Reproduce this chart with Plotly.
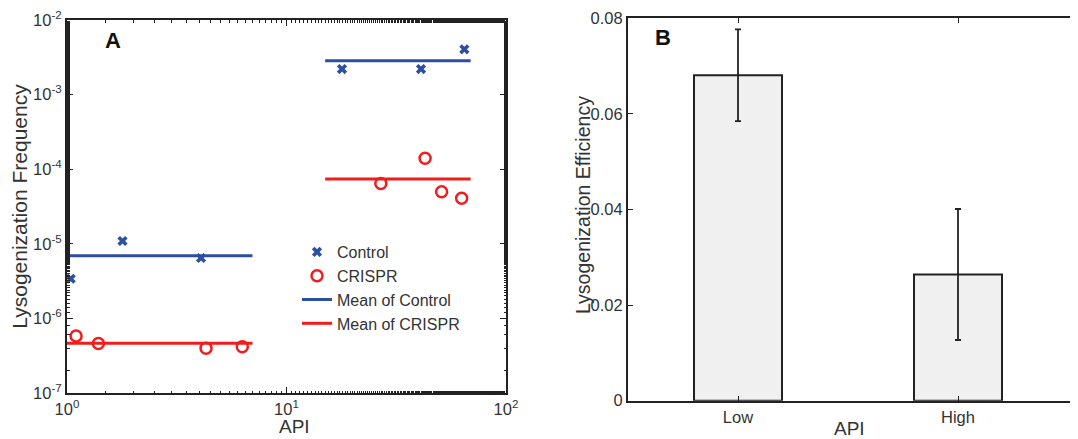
import plotly.graph_objects as go

# ---- Panel A data ----
control_api = [1.04, 1.79, 4.08, 17.9, 41.0, 64.6]
control_freq = [3.4e-6, 1.09e-5, 6.45e-6, 2.2e-3, 2.2e-3, 4.05e-3]
crispr_api = [1.10, 1.39, 4.30, 6.29, 26.9, 42.8, 50.9, 62.8]
crispr_freq = [5.8e-7, 4.6e-7, 3.97e-7, 4.18e-7, 6.45e-5, 1.4e-4, 5.0e-5, 4.07e-5]
mean_api = [1.0, 7.0, None, 15.0, 69.0]
mean_control = [6.9e-6, 6.9e-6, None, 2.85e-3, 2.85e-3]
mean_crispr = [4.63e-7, 4.63e-7, None, 7.4e-5, 7.4e-5]

# ---- Panel B data ----
categories = ["Low", "High"]
efficiency = [0.0681, 0.0264]
efficiency_err = [0.0096, 0.0137]

xtick_vals = [1, 10, 100]
xtick_text = ["10<sup>0</sup>", "10<sup>1</sup>", "10<sup>2</sup>"]
ytick_vals = [1e-7, 1e-6, 1e-5, 1e-4, 1e-3, 1e-2]
ytick_text = ["10<sup>-7</sup>", "10<sup>-6</sup>", "10<sup>-5</sup>",
              "10<sup>-4</sup>", "10<sup>-3</sup>", "10<sup>-2</sup>"]
btick_vals = [0, 0.02, 0.04, 0.06, 0.08]
btick_text = ["0", "0.02", "0.04", "0.06", "0.08"]

BLUE = "#2c4fa3"
RED = "#f21c1c"
AX = "#222222"
TXT = "#333333"
FONT = "Liberation Sans, Arial, sans-serif"

W, H = 1078, 439
OFF = 8  # page offset of the figure (body margin)


def px_x(p):
    return (p - OFF) / W


def px_y(p):
    return 1 - (p - OFF) / H


fig = go.Figure()

fig.add_trace(go.Scatter(x=control_api, y=control_freq, mode="markers", name="Control",
                         marker=dict(symbol="x", size=9, color=BLUE, line=dict(width=0)),
                         xaxis="x", yaxis="y"))
fig.add_trace(go.Scatter(x=crispr_api, y=crispr_freq, mode="markers", name="CRISPR",
                         marker=dict(symbol="circle-open", size=11, color=RED, line=dict(width=2.5)),
                         xaxis="x", yaxis="y"))
fig.add_trace(go.Scatter(x=mean_api, y=mean_control, mode="lines", name="Mean of Control",
                         line=dict(color=BLUE, width=3), connectgaps=False,
                         xaxis="x", yaxis="y"))
fig.add_trace(go.Scatter(x=mean_api, y=mean_crispr, mode="lines", name="Mean of CRISPR",
                         line=dict(color=RED, width=3), connectgaps=False,
                         xaxis="x", yaxis="y"))

fig.add_trace(go.Bar(x=[1, 2], y=efficiency, width=0.4, showlegend=False,
                     marker=dict(color="#f0f0f0", line=dict(color=AX, width=2)),
                     error_y=dict(type="data", array=efficiency_err, color=AX,
                                  thickness=1.8, width=3),
                     xaxis="x2", yaxis="y2"))

axis_common = dict(showline=True, linecolor=AX, linewidth=2, ticks="inside",
                   tickcolor=AX, showgrid=False, zeroline=False, automargin=False,
                   tickfont=dict(size=16.5, color=TXT, family=FONT))

# right panel: axis spans page x 628 .. beyond the window edge
b_left = 628
b_range_end = 0.5 + (W + OFF - b_left) / 220.0

fig.update_layout(
    width=W, height=H,
    margin=dict(l=0, r=0, t=0, b=0),
    paper_bgcolor="white", plot_bgcolor="white",
    font=dict(family=FONT, color=TXT),
    xaxis=dict(type="log", range=[0, 2], domain=[px_x(67), px_x(506)], anchor="y",
               tickvals=xtick_vals, ticktext=xtick_text, mirror="ticks", ticklen=6,
               minor=dict(ticks="inside", ticklen=2.5, tickwidth=1, tickcolor=AX, showgrid=False),
               **axis_common),
    yaxis=dict(type="log", range=[-7, -2], domain=[px_y(393), px_y(20)], anchor="x",
               tickvals=ytick_vals, ticktext=ytick_text, mirror="ticks", ticklen=6,
               minor=dict(ticks="inside", ticklen=2.5, tickwidth=1, tickcolor=AX, showgrid=False),
               title=dict(text="Lysogenization Frequency", standoff=2,
                          font=dict(size=21, color=TXT, family=FONT)),
               **axis_common),
    xaxis2=dict(range=[0.5, b_range_end], domain=[px_x(b_left), 1.0], anchor="y2",
                tickvals=[1, 2], ticktext=categories, mirror="ticks", ticklen=5,
                **axis_common),
    yaxis2=dict(range=[0, 0.08], domain=[px_y(400.7), px_y(18.3)], anchor="x2",
                tickvals=btick_vals, ticktext=btick_text, ticklen=5,
                **axis_common),
    legend=dict(x=px_x(297), y=px_y(235), xanchor="left", yanchor="top",
                bgcolor="rgba(0,0,0,0)", font=dict(size=16, color=TXT, family=FONT),
                tracegroupgap=0, itemwidth=30),
    annotations=[
        dict(text="<b>A</b>", xref="paper", yref="paper", x=px_x(113), y=px_y(40),
             xanchor="center", yanchor="middle",
             showarrow=False, font=dict(size=22, color="#111111", family=FONT)),
        dict(text="<b>B</b>", xref="paper", yref="paper", x=px_x(663), y=px_y(37),
             xanchor="center", yanchor="middle",
             showarrow=False, font=dict(size=22, color="#111111", family=FONT)),
        dict(text="API", xref="paper", yref="paper", x=px_x(294), y=px_y(426),
             xanchor="center", yanchor="middle",
             showarrow=False, font=dict(size=19, color=TXT, family=FONT)),
        dict(text="API", xref="paper", yref="paper", x=px_x(849), y=px_y(428),
             xanchor="center", yanchor="middle",
             showarrow=False, font=dict(size=19, color=TXT, family=FONT)),
        dict(text="Lysogenization Efficiency", xref="paper", yref="paper",
             x=px_x(583), y=px_y(205), xanchor="center", yanchor="middle",
             textangle=-90, showarrow=False,
             font=dict(size=19.5, color=TXT, family=FONT)),
    ],
)

fig.write_html("out.html")
